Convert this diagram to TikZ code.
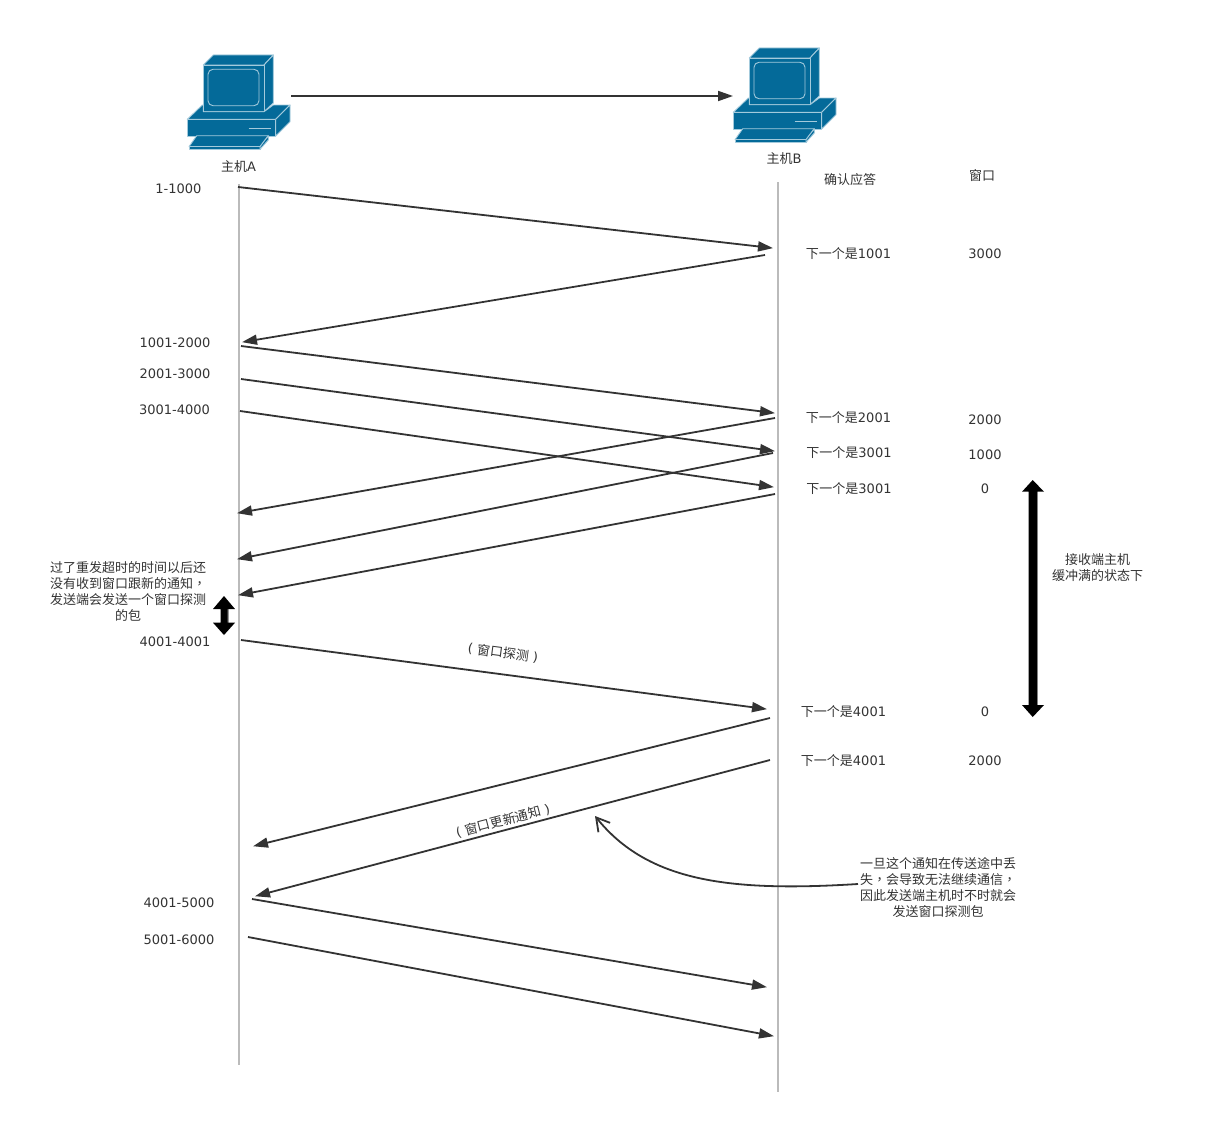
\documentclass[tikz,border=0pt]{standalone}
\usepackage{fontspec}
\setmainfont{DejaVu Sans}
\newfontfamily\cjk{Noto Sans CJK SC}
\newfontfamily\cjkpunct{Noto Sans CJK TC}
\newcommand{\zhcomma}{{\cjkpunct ，}}
\usetikzlibrary{arrows.meta}
\definecolor{ink}{HTML}{333333}
\definecolor{pcfill}{HTML}{046A99}
\definecolor{pcline}{HTML}{A3CADC}
\definecolor{lifeline}{HTML}{BBBBBB}
\tikzset{
  lbl/.style={text=ink,inner sep=0pt,yshift=-0.8pt,font=\fontsize{13}{16}\selectfont,align=center},
  msg/.style={draw=ink,line width=1.8pt,shorten >=-1pt,-{Triangle[length=15pt,width=10pt]}},
  life/.style={draw=lifeline,line width=2pt},
  note/.style={draw=ink,line width=1.8pt,-{Straight Barb[length=13pt,width=15pt,line width=1.8pt]}},
  pcpart/.style={fill=pcfill,draw=pcline,line width=0.9pt,line join=round},
  hostpc/.pic={
    \path[pcpart] (203.3,65) -- (213.3,55) -- (273.3,55) -- (264,65) -- cycle;
    \path[pcpart] (264,65) -- (273.3,55) -- (273.3,103) -- (264,111.7) -- cycle;
    \path[pcpart] (203.3,65) rectangle (264,111.7);
    \path[pcpart,rounded corners=5pt] (208,69.3) rectangle (259,105.7);
    \path[pcpart] (187.3,119.3) -- (202.3,105) -- (203.3,105) -- (203.3,111.7) -- (264,111.7) -- (273.3,105) -- (290,105) -- (275.7,119.3) -- cycle;
    \path[pcpart] (275.7,119.3) -- (290,105) -- (290,121.7) -- (275.7,136) -- cycle;
    \path[pcpart] (187.3,119.3) rectangle (275.7,136);
    \draw[pcline,line width=1.4pt] (248.7,128.7) -- (270.7,128.7);
    \path[pcpart] (196.7,135.7) -- (268.3,135.7) -- (260,146.7) -- (189,146.7) -- cycle;
    \path[pcpart] (189,146.7) -- (260,146.7) -- (260,149.3) -- (189,149.3) -- cycle;
    \path[pcpart] (260,146.7) -- (268.3,135.7) -- (268.3,140) -- (260,149.3) -- cycle;
  }
}
\begin{document}
\begin{tikzpicture}[x=1pt,y=-1pt]
\useasboundingbox[fill=white] (0,0) rectangle (1210,1124);

% life lines
\coordinate (lat) at (239,184); \coordinate (lab) at (239,1065);
\coordinate (lbt) at (778,182); \coordinate (lbb) at (778,1092);
\draw[life] (lat) -- (lab);
\draw[life] (lbt) -- (lbb);

% hosts
\pic at (0,0) {hostpc};
\pic at (546,-7) {hostpc};
\node[lbl] (hostA) at (238.5,165.5) {{\cjk 主机}A};
\node[lbl] (hostB) at (784,158) {{\cjk 主机}B};
\coordinate (linkA) at (291,96); \coordinate (linkB) at (732,96);
\draw[msg] (linkA) -- (linkB);

% headers
\node[lbl] (hAck) at (850,179) {\cjk 确认应答};
\node[lbl] (hWin) at (982,175) {\cjk 窗口};

% sequence labels
\node[lbl] (s1) at (178.5,188) {1-1000};
\node[lbl] (s2) at (175,342) {1001-2000};
\node[lbl] (s3) at (175,373) {2001-3000};
\node[lbl] (s4) at (174.5,409) {3001-4000};
\node[lbl] (s5) at (175,641) {4001-4001};
\node[lbl] (s6) at (179,902) {4001-5000};
\node[lbl] (s7) at (179,939) {5001-6000};

% ack labels
\node[lbl] (k1) at (848.5,253) {{\cjk 下一个是}1001};
\node[lbl] (k2) at (848.5,417) {{\cjk 下一个是}2001};
\node[lbl] (k3) at (849,452) {{\cjk 下一个是}3001};
\node[lbl] (k4) at (849,488) {{\cjk 下一个是}3001};
\node[lbl] (k5) at (843.5,711) {{\cjk 下一个是}4001};
\node[lbl] (k6) at (843.5,760) {{\cjk 下一个是}4001};

% window labels
\node[lbl] (w1) at (985,253) {3000};
\node[lbl] (w2) at (985,419) {2000};
\node[lbl] (w3) at (985,454) {1000};
\node[lbl] (w4) at (985,488) {0};
\node[lbl] (w5) at (985,711) {0};
\node[lbl] (w6) at (985,760) {2000};

% notes
\node[lbl] (nFull) at (1097.5,567) {\cjk 接收端主机\\\cjk 缓冲满的状态下};
\node[lbl] (nProbe) at (128,590.3) {\cjk 过了重发超时的时间以后还\\\cjk 没有收到窗口跟新的通知\zhcomma\\\cjk 发送端会发送一个窗口探测\\\cjk 的包};
\node[lbl] (nLost) at (938,887) {\cjk 一旦这个通知在传送途中丢\\\cjk 失\zhcomma 会导致无法继续通信\zhcomma\\\cjk 因此发送端主机时不时就会\\\cjk 发送窗口探测包};
\node[lbl,rotate=-7.5] (tProbe) at (503,652) {( {\cjk 窗口探测} )};
\node[lbl,rotate=14.5] (tUpd) at (503,820) {( {\cjk 窗口更新通知} )};

% messages
\foreach \n/\ax/\ay/\bx/\by in {
  a/238/187/772/248, b/765/255/243/342, c/241/346/774/413, d/241/379/774/451,
  e/240/411/773/487, f/775/418/238/513, g/773/453/238/559, h/775/494/239/595,
  i/241/640/766/709, j/770/718/254/846, k/770/760/256/896, l/252/899/766/987,
  m/248/937/773/1036}{
  \coordinate (\n0) at (\ax,\ay);
  \coordinate (\n1) at (\bx,\by);
  \draw[msg] (\n0) -- (\n1);
}

% curved note arrow
\coordinate (cS) at (858,884); \coordinate (cE) at (595,816);
\draw[note] (cS) .. controls (730,892) and (648,882) .. (cE);

% block double arrows
\draw[lifeline!80!black,line width=1.3pt] (1037.2,491) -- (1037.2,706);
\fill[black] (1032.7,480) -- (1044,491.7) -- (1037,491.7) -- (1037,705) -- (1044,705) -- (1032.7,717) -- (1022,705) -- (1028.5,705) -- (1028.5,491.7) -- (1022,491.7) -- cycle;
\draw[lifeline!80!black,line width=1.1pt] (228,608) -- (228,623);
\fill[black] (224,596) -- (235,609) -- (227.7,609) -- (227.7,622.7) -- (235,622.7) -- (224,635) -- (213,622.7) -- (220.5,622.7) -- (220.5,609) -- (213,609) -- cycle;
\end{tikzpicture}
\end{document}
